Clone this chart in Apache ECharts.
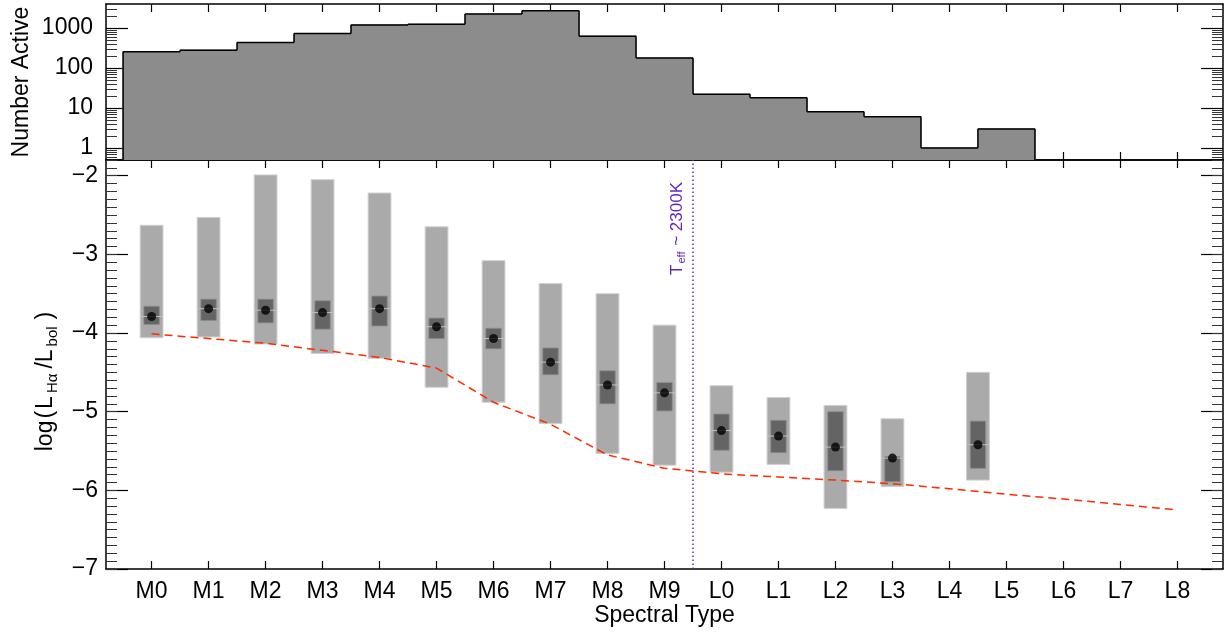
<!DOCTYPE html>
<html><head><meta charset="utf-8">
<script src="https://cdn.jsdelivr.net/npm/echarts@6/dist/echarts.min.js"></script>
<style>html,body{margin:0;padding:0;background:#fff}#chart{width:1225px;height:632px}</style>
</head><body><div id="chart"></div>
<script>
// ---------- data ----------
const spectralTypes = ['M0','M1','M2','M3','M4','M5','M6','M7','M8','M9','L0','L1','L2','L3','L4','L5','L6','L7','L8'];
const typePositions = [0,1,2,3,4,5,6,7,8,9,10,11,12,13,14,15,16,17,18];
const histCounts = [254, 280, 433, 726, 1195, 1240, 2240, 2710, 625, 177, 22, 18, 8, 6, 1, 3, 0, 0, 0];

const boxPositions = [0, 1, 2, 3, 4, 5, 6, 7, 8, 9, 10, 11, 12, 13, 14.5];
const rangeLow  = [-4.06, -4.05, -4.14, -4.26, -4.32, -4.69, -4.88, -5.15, -5.53, -5.68, -5.77, -5.67, -6.23, -5.95, -5.87];
const rangeHigh = [-2.63, -2.53, -1.99, -2.05, -2.22, -2.65, -3.08, -3.37, -3.50, -3.90, -4.67, -4.82, -4.92, -5.09, -4.50];
const iqrLow    = [-3.89, -3.84, -3.87, -3.95, -3.91, -4.07, -4.20, -4.53, -4.90, -4.99, -5.49, -5.52, -5.75, -5.89, -5.72];
const iqrHigh   = [-3.66, -3.57, -3.57, -3.59, -3.53, -3.81, -3.94, -4.19, -4.48, -4.63, -5.03, -5.11, -5.00, -5.57, -5.12];
const medians   = [-3.79, -3.69, -3.71, -3.74, -3.69, -3.92, -4.07, -4.37, -4.66, -4.76, -5.24, -5.31, -5.45, -5.59, -5.42];

const limitLine = [-4.01, -4.07, -4.13, -4.22, -4.31, -4.445, -4.88, -5.16, -5.55, -5.72, -5.79, -5.83, -5.87, -5.915, -5.98, -6.05, -6.11, -6.18, -6.25];

const countTicksMajor = [1, 10, 100, 1000];
const countTicksMinor = [0.6,0.7,0.8,0.9,2,3,4,5,6,7,8,9,20,30,40,50,60,70,80,90,200,300,400,500,600,700,800,900,2000,3000];
const lumTicksMajor = [-7, -6, -5, -4, -3, -2];
const teffPosition = 9.5;
const teffLabel = '{m|T}{s|eff}{m| ~ 2300K}';

// ---------- styling ----------
const FONT = 'Liberation Sans, Arial, Helvetica, sans-serif';
const X_MIN = -0.8, X_MAX = 18.8;
const C_MIN = 0.5, C_MAX = 4000;
const L_MIN = -7, L_MAX = -1.8;
const lineCol = '#000';
const purple = '#5f25c4';

function xAxisDef(grid, pos, labels) {
  return {
    type: 'value', gridIndex: grid, position: pos, min: X_MIN, max: X_MAX,
    axisLine: { show: true, onZero: false, lineStyle: { color: lineCol, width: 1.5 } },
    axisTick: { show: true, inside: true, length: 8, customValues: typePositions, lineStyle: { color: lineCol, width: 1.2 } },
    axisLabel: labels ? {
      show: true, customValues: typePositions, margin: 11,
      fontSize: 23, fontFamily: FONT, color: '#000',
      formatter: v => spectralTypes[typePositions.indexOf(Math.round(v))]
    } : { show: false },
    splitLine: { show: false }
  };
}
function logAxisDef(pos, ticks, len, showLine, labels) {
  return {
    type: 'log', logBase: 10, gridIndex: 0, position: pos, min: C_MIN, max: C_MAX,
    axisLine: { show: showLine, onZero: false, lineStyle: { color: lineCol, width: 1.5 } },
    axisTick: { show: true, inside: true, length: len, customValues: ticks, lineStyle: { color: len > 15 ? '#000' : '#333', width: len > 15 ? 1.2 : 1 } },
    axisLabel: labels ? {
      show: true, customValues: countTicksMajor, margin: 13,
      fontSize: 23, fontFamily: FONT, color: '#000',
      formatter: v => String(Math.round(v))
    } : { show: false },
    splitLine: { show: false }
  };
}
function lumAxisDef(pos, major, showLine, labels) {
  const ax = {
    type: 'value', gridIndex: 1, position: pos, min: L_MIN, max: L_MAX,
    axisLine: { show: showLine, onZero: false, lineStyle: { color: lineCol, width: 1.5 } },
    axisTick: major
      ? { show: true, inside: true, length: 22, customValues: lumTicksMajor, lineStyle: { color: '#000', width: 1.2 } }
      : { show: true, inside: true, length: 11, lineStyle: { color: '#333', width: 1 } },
    axisLabel: labels ? {
      show: true, customValues: lumTicksMajor, margin: 8,
      fontSize: 23, fontFamily: FONT, color: '#000',
      formatter: v => (v < 0 ? '\u2212' : '') + Math.abs(v)
    } : { show: false },
    splitLine: { show: false }
  };
  if (!major) ax.interval = 0.1;
  return ax;
}

const xAxes = [xAxisDef(0, 'bottom', false), xAxisDef(0, 'top', false), xAxisDef(1, 'bottom', true), xAxisDef(1, 'top', false)];
Object.assign(xAxes[2], {
  name: 'Spectral Type', nameLocation: 'middle', nameGap: 35, nameMoveOverlap: false,
  nameTextStyle: { fontSize: 23, fontFamily: FONT, color: '#000' }
});

const yAxes = [
  logAxisDef('left', countTicksMajor, 22, true, true),
  logAxisDef('left', countTicksMinor, 11, false, false),
  logAxisDef('right', countTicksMajor, 22, true, false),
  logAxisDef('right', countTicksMinor, 11, false, false),
  lumAxisDef('left', true, true, true),
  lumAxisDef('left', false, false, false),
  lumAxisDef('right', true, true, false),
  lumAxisDef('right', false, false, false)
];
Object.assign(yAxes[0], {
  name: 'Number Active', nameLocation: 'middle', nameRotate: 90, nameGap: 73, nameMoveOverlap: false,
  nameTextStyle: { fontSize: 23, fontFamily: FONT, color: '#000' }
});
Object.assign(yAxes[4], {
  name: 'log{p|(}L{s|H\u03b1}/L{s|bol}{p|)}', nameLocation: 'middle', nameRotate: 90, nameGap: 46, nameMoveOverlap: false,
  nameTextStyle: {
    fontSize: 23, fontFamily: FONT, color: '#000', lineHeight: 28, padding: [0, 32, 0, 0],
    rich: {
      s: { fontSize: 15, fontFamily: FONT, color: '#000', verticalAlign: 'bottom', lineHeight: 18, padding: [0, 5, 0, 3] },
      p: { fontSize: 23, fontFamily: FONT, color: '#000', lineHeight: 28, padding: [0, 2, 0, 2] }
    }
  }
});

const option = {
  animation: false,
  backgroundColor: '#fff',
  grid: [
    { left: 106, right: 2, top: 4, height: 156, outerBoundsMode: 'none', containLabel: false },
    { left: 106, right: 2, top: 160, height: 409, outerBoundsMode: 'none', containLabel: false }
  ],
  xAxis: xAxes,
  yAxis: yAxes,
  series: [
    {
      type: 'custom', name: 'histogram', xAxisIndex: 0, yAxisIndex: 0, clip: true, z: 2,
      data: typePositions.map((p, i) => [p, histCounts[i]]),
      encode: { x: 0, y: 1 },
      renderItem: (params, api) => {
        const i = params.dataIndex;
        const x = api.value(0);
        const c = histCounts[i];
        const prev = i > 0 ? histCounts[i - 1] : 0;
        const yBase = api.coord([x, C_MIN])[1];
        const toY = v => v > 0 ? api.coord([x, v])[1] : yBase;
        const xl = api.coord([x - 0.5, C_MIN])[0];
        const xr = api.coord([x + 0.5, C_MIN])[0];
        const yTop = toY(c), yPrev = toY(prev);
        const children = [];
        if (c > 0) {
          children.push({ type: 'rect', z2: 1, shape: { x: xl, y: yTop, width: xr - xl, height: yBase - yTop }, style: { fill: '#8c8c8c', stroke: '#8c8c8c', lineWidth: 1.2 } });
          children.push({ type: 'line', z2: 5, shape: { x1: xl, y1: yTop, x2: xr, y2: yTop }, style: { stroke: '#000', lineWidth: 1.5 } });
        }
        if (c > 0 || prev > 0) {
          children.push({ type: 'line', z2: 5, shape: { x1: xl, y1: yPrev, x2: xl, y2: yTop }, style: { stroke: '#000', lineWidth: 1.5 } });
        }
        return { type: 'group', children };
      }
    },
    {
      type: 'custom', name: 'ranges', xAxisIndex: 2, yAxisIndex: 4, clip: true, z: 2,
      data: boxPositions.map((p, i) => [p, rangeLow[i], rangeHigh[i], iqrLow[i], iqrHigh[i], medians[i]]),
      encode: { x: 0, y: [1, 2] },
      renderItem: (params, api) => {
        const x = api.value(0);
        const lo = api.coord([x, api.value(1)]);
        const hi = api.coord([x, api.value(2)]);
        const q1 = api.coord([x, api.value(3)]);
        const q3 = api.coord([x, api.value(4)]);
        const md = api.coord([x, api.value(5)]);
        const unit = api.coord([x + 1, api.value(1)])[0] - lo[0];
        const wL = unit * 0.4, wD = unit * 0.27;
        return {
          type: 'group', children: [
            { type: 'rect', shape: { x: lo[0] - wL / 2, y: hi[1], width: wL, height: lo[1] - hi[1] }, style: { fill: '#aaaaaa', stroke: '#cfcfcf', lineWidth: 1 } },
            { type: 'rect', shape: { x: lo[0] - wD / 2, y: q3[1], width: wD, height: q1[1] - q3[1] }, style: { fill: '#646464', stroke: '#8a8a8a', lineWidth: 0.8 } },
            { type: 'line', shape: { x1: lo[0] - wL / 2, y1: md[1], x2: lo[0] + wL / 2, y2: md[1] }, style: { stroke: '#c2c2c2', lineWidth: 1 } }
          ]
        };
      }
    },
    {
      type: 'line', name: 'limit', xAxisIndex: 2, yAxisIndex: 4, z: 3,
      data: typePositions.map((p, i) => [p, limitLine[i]]),
      showSymbol: false, symbol: 'none', smooth: false,
      lineStyle: { color: '#ff2a00', width: 1.5, type: [8, 5] }
    },
    {
      type: 'scatter', name: 'median', xAxisIndex: 2, yAxisIndex: 4, z: 4,
      data: boxPositions.map((p, i) => [p, medians[i]]),
      symbol: 'circle', symbolSize: 9, itemStyle: { color: '#000' },
      markLine: {
        silent: true, symbol: 'none', animation: false,
        lineStyle: { color: purple, width: 1.5, type: [1.5, 2.5] },
        label: {
          show: true, position: 'insideEndTop', distance: [22, 6],
          formatter: teffLabel,
          rich: {
            m: { fontSize: 17, fontFamily: FONT, color: purple, lineHeight: 20 },
            s: { fontSize: 11, fontFamily: FONT, color: purple, verticalAlign: 'bottom', lineHeight: 13, padding: [0, 1, 0, 1] }
          }
        },
        data: [{ xAxis: teffPosition }]
      }
    }
  ]
};

const chart = echarts.init(document.getElementById('chart'), null, { renderer: 'canvas' });
chart.setOption(option);
</script>
</body></html>
